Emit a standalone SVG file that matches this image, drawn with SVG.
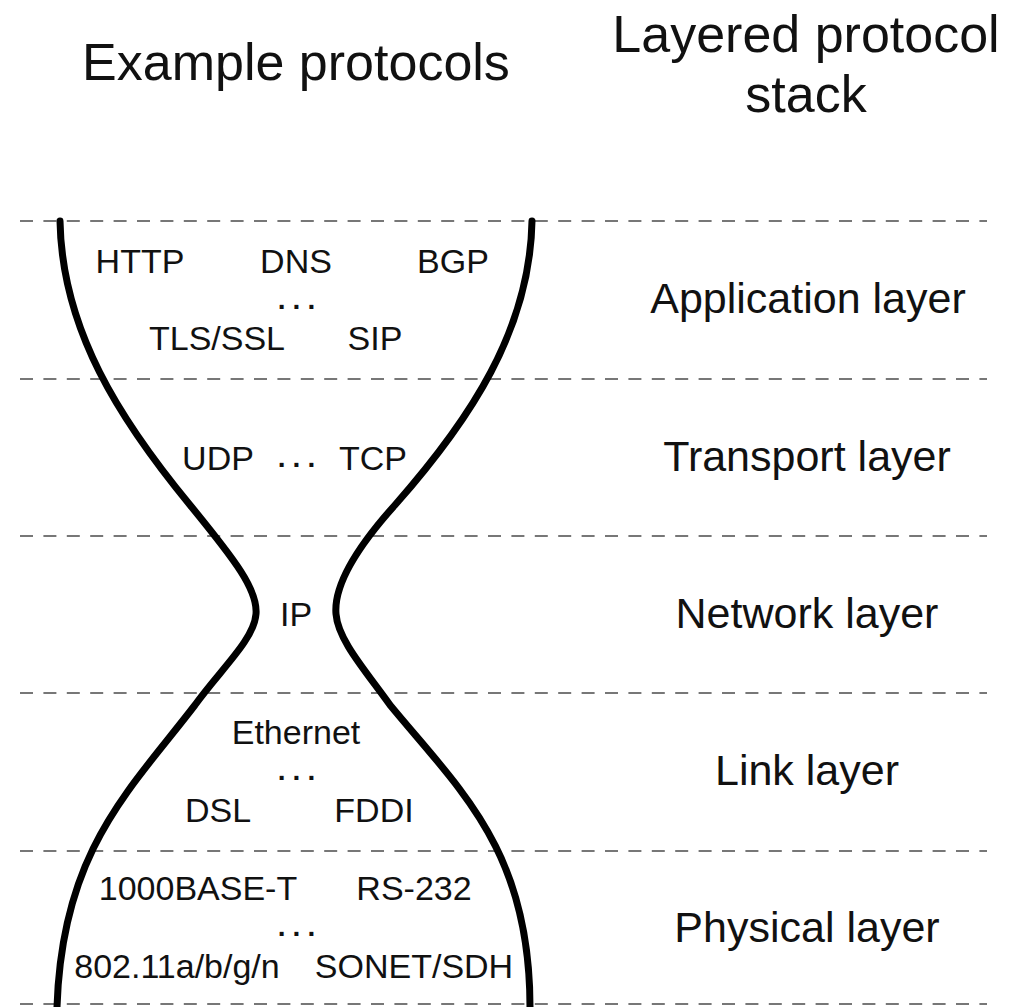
<svg xmlns="http://www.w3.org/2000/svg" width="1015" height="1007" viewBox="0 0 1015 1007">
<style>
.t{font-family:"Liberation Sans",Arial,sans-serif;fill:#111;text-anchor:middle}
.h{font-size:52px}
.l{font-size:43px}
.p{font-size:34px}
.d{font-size:28px;font-weight:bold;letter-spacing:7px}
.dash{stroke:#777;stroke-width:2.2;stroke-dasharray:13 10.4;fill:none}
.curve{stroke:#000;stroke-width:7;fill:none;stroke-linecap:round}
</style>
<rect width="1015" height="1007" fill="#fff"/>
<g id="headers">
<text class="t h" x="296" y="80">Example protocols</text>
<text class="t h" x="806" y="52">Layered protocol</text>
<text class="t h" x="806" y="112">stack</text>
</g>
<g id="dividers">
<line class="dash" x1="20" y1="221" x2="987" y2="221"/>
<line class="dash" x1="20" y1="379" x2="987" y2="379"/>
<line class="dash" x1="20" y1="536" x2="987" y2="536"/>
<line class="dash" x1="20" y1="693" x2="987" y2="693"/>
<line class="dash" x1="20" y1="851" x2="987" y2="851"/>
<line class="dash" x1="20" y1="1004" x2="987" y2="1004"/>
</g>
<g id="hourglass">
<path class="curve" d="M60,221 C62,330 120,420 190,505 C235,560 258,590 256,614 C254,640 220,670 195,705 C130,790 62,850 57,1007"/>
<path class="curve" d="M532,221 C530,330 470,420 395,505 C350,555 334,590 336,614 C338,640 365,670 390,705 C460,790 530,850 530,1007"/>
</g>
<g id="application">
<text class="t p" x="140" y="273">HTTP</text>
<text class="t p" x="296" y="273">DNS</text>
<text class="t p" x="453" y="273">BGP</text>
<text class="t d" x="300" y="309">...</text>
<text class="t p" x="217" y="350">TLS/SSL</text>
<text class="t p" x="375" y="350">SIP</text>
<text class="t l" x="808" y="313">Application layer</text>
</g>
<g id="transport">
<text class="t p" x="218" y="470">UDP</text>
<text class="t d" x="300" y="467">...</text>
<text class="t p" x="373" y="470">TCP</text>
<text class="t l" x="807" y="471">Transport layer</text>
</g>
<g id="network">
<text class="t p" x="296" y="626">IP</text>
<text class="t l" x="807" y="628">Network layer</text>
</g>
<g id="link">
<text class="t p" x="296" y="744">Ethernet</text>
<text class="t d" x="300" y="780">...</text>
<text class="t p" x="218" y="822">DSL</text>
<text class="t p" x="374" y="822">FDDI</text>
<text class="t l" x="807" y="785">Link layer</text>
</g>
<g id="physical">
<text class="t p" x="198" y="900">1000BASE-T</text>
<text class="t p" x="414" y="900">RS-232</text>
<text class="t d" x="300" y="936">...</text>
<text class="t p" x="177" y="978">802.11a/b/g/n</text>
<text class="t p" x="414" y="978">SONET/SDH</text>
<text class="t l" x="807" y="942">Physical layer</text>
</g>
</svg>
